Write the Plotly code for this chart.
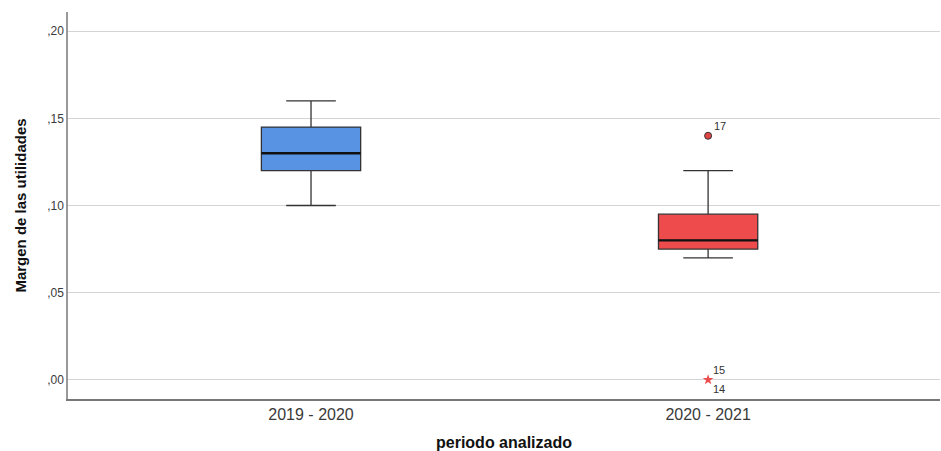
import plotly.graph_objects as go

categories = ["2019 - 2020", "2020 - 2021"]
q1 = [0.12, 0.075]
median = [0.13, 0.08]
q3 = [0.145, 0.095]
lower = [0.10, 0.07]
upper = [0.16, 0.12]
colors = ["#5792e3", "#ee4b4d"]

outlier_cat = [1]
outlier_val = [0.14]
outlier_lbl = ["17"]
extreme_cat = [1]
extreme_val = [0.00]
extreme_lbl_top = ["15"]
extreme_lbl_bot = ["14"]

y_ticks = [0.0, 0.05, 0.10, 0.15, 0.20]
y_ticklabels = [",00", ",05", ",10", ",15", ",20"]

box_w = 0.25
xpos = list(range(len(categories)))
FONT = "Liberation Sans, Arial"

fig = go.Figure()
for i, c in enumerate(categories):
    fig.add_trace(go.Box(
        x=[xpos[i]], q1=[q1[i]], median=[median[i]], q3=[q3[i]],
        lowerfence=[lower[i]], upperfence=[upper[i]],
        width=box_w, whiskerwidth=0.5,
        fillcolor=colors[i], line=dict(color="#333333", width=1.3),
        boxpoints=False, showlegend=False, hoverinfo="skip",
    ))
    fig.add_trace(go.Scatter(
        x=[xpos[i] - box_w / 2, xpos[i] + box_w / 2], y=[median[i], median[i]],
        mode="lines", line=dict(color="#111111", width=2.4),
        showlegend=False, hoverinfo="skip",
    ))

fig.add_trace(go.Scatter(
    x=outlier_cat, y=outlier_val, mode="markers",
    marker=dict(symbol="circle", size=7, color="#e04545", line=dict(color="#333333", width=1)),
    showlegend=False,
))
fig.add_trace(go.Scatter(
    x=extreme_cat, y=extreme_val, mode="markers",
    marker=dict(symbol="star", size=8, color="#ee4b4d", line=dict(width=0)),
    showlegend=False,
))

for xv, yv, t in zip(outlier_cat, outlier_val, outlier_lbl):
    fig.add_annotation(x=xv, y=yv, text=t, showarrow=False, xanchor="left",
                       xshift=4, yshift=10, font=dict(family=FONT, size=11, color="#333333"))
for xv, yv, t in zip(extreme_cat, extreme_val, extreme_lbl_top):
    fig.add_annotation(x=xv, y=yv, text=t, showarrow=False, xanchor="left",
                       xshift=3, yshift=10, font=dict(family=FONT, size=11, color="#333333"))
for xv, yv, t in zip(extreme_cat, extreme_val, extreme_lbl_bot):
    fig.add_annotation(x=xv, y=yv, text=t, showarrow=False, xanchor="left",
                       xshift=3, yshift=-9, font=dict(family=FONT, size=11, color="#333333"))

fig.update_layout(
    width=941, height=451,
    margin=dict(l=68, r=1, t=12, b=52),
    paper_bgcolor="white", plot_bgcolor="white",
    font=dict(family=FONT, color="#222222"),
    xaxis=dict(
        range=[-0.612, 1.584], tickvals=xpos, ticktext=categories,
        showgrid=False, zeroline=False, showline=True, linecolor="#777777", linewidth=1.5,
        ticks="", tickfont=dict(size=16, color="#3a3a3a"),
        title=dict(text="<b>periodo analizado</b>", font=dict(size=16, color="#111111"), standoff=15),
    ),
    yaxis=dict(
        range=[-0.011, 0.211], tickvals=y_ticks, ticktext=y_ticklabels,
        showgrid=True, gridcolor="#d4d4d4", gridwidth=1, zeroline=False,
        showline=True, linecolor="#999999", linewidth=1.5,
        ticks="", tickfont=dict(size=12, color="#3a3a3a"),
        title=dict(text="<b>Margen de las utilidades</b>", font=dict(size=15, color="#111111"), standoff=17),
    ),
)

fig.write_html("out.html")
